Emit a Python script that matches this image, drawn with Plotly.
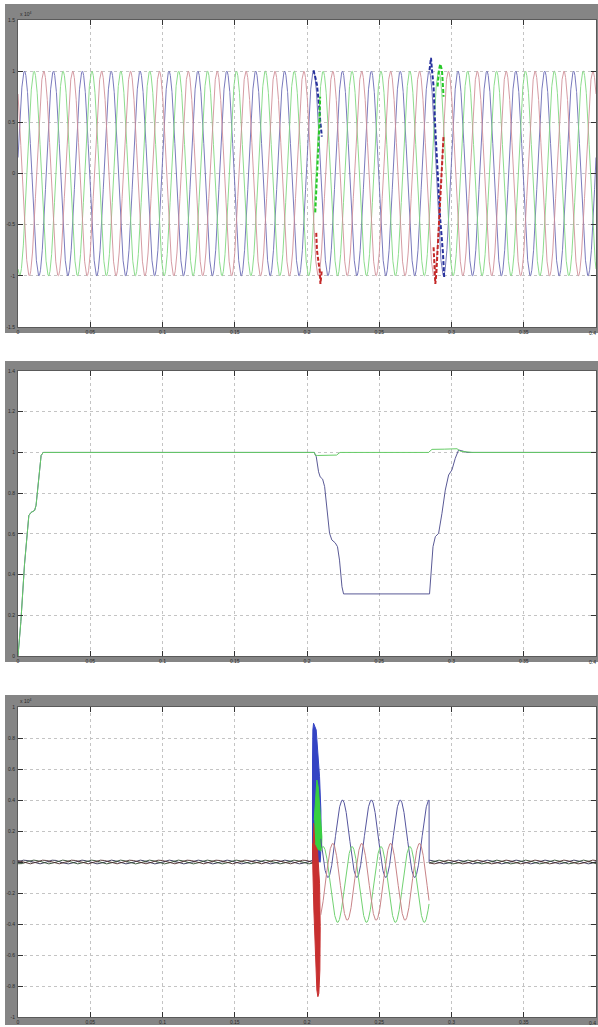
import numpy as np
import plotly.graph_objects as go

# ------------------------------------------------------------------ data
X_TICKS = [0, 0.05, 0.1, 0.15, 0.2, 0.25, 0.3, 0.35]
X_TICK_TEXT = ['0', '0.05', '0.1', '0.15', '0.2', '0.25', '0.3', '0.35']
X_END_LABEL = '0.4'
V_TICKS = [-1.5, -1, -0.5, 0, 0.5, 1, 1.5]
V_TICK_TEXT = ['-1.5', '-1', '-0.5', '0', '0.5', '1', '1.5']
RMS_TICKS = [0, 0.2, 0.4, 0.6, 0.8, 1.0, 1.2, 1.4]
RMS_TICK_TEXT = ['0', '0.2', '0.4', '0.6', '0.8', '1', '1.2', '1.4']
I_TICKS = [-1, -0.8, -0.6, -0.4, -0.2, 0, 0.2, 0.4, 0.6, 0.8, 1]
I_TICK_TEXT = ['-1', '-0.8', '-0.6', '-0.4', '-0.2', '0', '0.2', '0.4', '0.6', '0.8', '1']

# three-phase source parameters (blue, green, red)
FREQ_HZ = 50
BLUE_PEAK_T = 0.0045
PHASE_SHIFT_DEG = [0, -120, -240]
V_AMPL = [1.0, 1.0, 1.0]

# panel 1: disturbance segments (t, value x1e4)
GL1_BLUE_T = [0.2045, 0.2052, 0.2059, 0.2069, 0.2075, 0.2080, 0.2087, 0.2091, 0.2098, 0.2103]
GL1_BLUE_V = [1.01, 0.98, 0.93, 0.865, 0.80, 0.72, 0.62, 0.52, 0.425, 0.36]
GL1_GREEN_T = [0.2057, 0.2063, 0.2069, 0.2078, 0.2087, 0.2091]
GL1_GREEN_V = [-0.38, -0.22, -0.05, 0.30, 0.52, 0.75]
GL1_RED_T = [0.2064, 0.2069, 0.2080, 0.2088, 0.2093, 0.2098, 0.2102]
GL1_RED_V = [-0.58, -0.75, -0.87, -0.95, -1.08, -1.0, -0.95]
GL2_BLUE_T = [0.2848, 0.2858, 0.2865, 0.2876, 0.2888, 0.2905, 0.2922, 0.2941, 0.2945, 0.2950]
GL2_BLUE_V = [1.01, 1.13, 1.01, 0.85, 0.43, 0.0, -0.45, -0.78, -0.97, -1.03]
GL2_GREEN_T = [0.2904, 0.2913, 0.2922, 0.2934, 0.2941, 0.2945]
GL2_GREEN_V = [0.85, 1.01, 1.07, 1.01, 0.85, 0.75]
GL2_RED_T = [0.2876, 0.2883, 0.2888, 0.2895, 0.2904, 0.2922, 0.2934, 0.2945]
GL2_RED_V = [-0.72, -0.91, -1.08, -0.98, -0.75, -0.26, 0.03, 0.36]

# panel 2: RMS voltage (pu)
RMS_GREEN_T = [0, 0.002, 0.0045, 0.0065, 0.0075, 0.009, 0.0115, 0.0125, 0.0145, 0.016, 0.0175,
               0.2050, 0.2058, 0.2075, 0.2205, 0.2228, 0.2841, 0.2865, 0.2950, 0.3038,
               0.3061, 0.3100, 0.3143, 0.4]
RMS_GREEN_V = [0, 0.17, 0.45, 0.64, 0.69, 0.705, 0.715, 0.74, 0.90, 0.985, 1.0,
               1.0, 0.986, 0.985, 0.987, 1.0, 1.0, 1.015, 1.016, 1.018,
               1.006, 1.003, 1.0, 1.0]
RMS_BLUE_T = [0, 0.002, 0.0045, 0.0065, 0.0075, 0.009, 0.0115, 0.0125, 0.0145, 0.016, 0.0175,
              0.2050, 0.2064, 0.2080, 0.2091, 0.2108, 0.2122, 0.2138, 0.2156, 0.2172, 0.2195,
              0.2211, 0.2225, 0.2242, 0.2253, 0.2848, 0.2858, 0.2872, 0.2888, 0.2911, 0.2934,
              0.2957, 0.2980, 0.3003, 0.3026, 0.3049, 0.3072, 0.3107, 0.4]
RMS_BLUE_V = [0, 0.17, 0.45, 0.64, 0.69, 0.705, 0.715, 0.74, 0.90, 0.985, 1.0,
              1.0, 0.979, 0.905, 0.88, 0.869, 0.832, 0.733, 0.603, 0.57, 0.556,
              0.537, 0.471, 0.34, 0.305, 0.305, 0.406, 0.537, 0.586, 0.603, 0.701,
              0.815, 0.889, 0.914, 0.971, 1.012, 1.008, 1.0, 1.0]

# panel 3: currents (x1e4)
RIPPLE_AMPL = [0.012, 0.012, 0.012]
PRE_FAULT_END = 0.2045
POST_FAULT_START = 0.2845
STEADY_START = 0.2095
STEADY_END = 0.2845
I_STEADY_OFFSET = [0.15, -0.145, -0.128]
I_STEADY_AMPL = [0.25, 0.245, 0.248]
BLOB_BLUE_T = [0.20383, 0.2036, 0.20383, 0.20406, 0.20453, 0.20637, 0.20753, 0.20868, 0.2096, 0.20983, 0.20914]
BLOB_BLUE_V = [0.0, 0.335, 0.658, 0.852, 0.895, 0.852, 0.723, 0.55, 0.335, 0.12, 0.0]
BLOB_RED_T = [0.20453, 0.2059, 0.2073, 0.20868, 0.20914, 0.2089, 0.2082, 0.20753, 0.20683, 0.2059, 0.20476, 0.20406, 0.20383]
BLOB_RED_V = [0.25, 0.206, 0.077, -0.138, -0.417, -0.697, -0.847, -0.869, -0.826, -0.632, -0.31, -0.052, 0.12]
BLOB_GREEN_T = [0.20499, 0.2059, 0.20683, 0.20776, 0.20914, 0.2103, 0.21006, 0.20799, 0.20568]
BLOB_GREEN_V = [0.271, 0.443, 0.529, 0.486, 0.335, 0.163, 0.077, 0.077, 0.12]

# ------------------------------------------------------------------ styling
W, H = 598, 1027
FONT = 'Liberation Sans'
C_BASE = ['#6a6ab4', '#7fd87f', '#d09098']      # thin phase lines
C_STEADY = ['#56569e', '#72d272', '#c88488']
C_DARK = ['#26309c', '#28c828', '#c42828']      # disturbance overlays
C_BLOB = ['#3444c4', '#38d040', '#c83030']
C_RIPPLE = ['#303050', '#2f4a2f', '#4a2a2a']
TICK_FONT = dict(family=FONT, size=5, color='#2a2a2a')


def px_x(p):
    return p / W


def px_y(p):
    return 1 - p / H


PANELS = [  # plot area in pixels: left, right, top, bottom ; gray frame top, bottom
    dict(l=18, r=596, t=20, b=327, gt=4, gb=333),
    dict(l=18, r=596, t=371, b=656, gt=361, gb=662),
    dict(l=18, r=596, t=707, b=1017, gt=695, gb=1025),
]

t = np.linspace(0, 0.4, 8001)
omega = 2 * np.pi * FREQ_HZ


def phase_wave(tt, k, amp=1.0, off=0.0):
    return off + amp * np.cos(omega * (tt - BLUE_PEAK_T) + np.deg2rad(PHASE_SHIFT_DEG[k]))


fig = go.Figure()

# ---- panel 1
for k in range(3):
    fig.add_trace(go.Scatter(x=t, y=phase_wave(t, k, V_AMPL[k]), mode='lines',
                             line=dict(color=C_BASE[k], width=0.9), xaxis='x', yaxis='y',
                             hoverinfo='skip', showlegend=False))
for tt, vv, k in [(GL1_BLUE_T, GL1_BLUE_V, 0), (GL1_GREEN_T, GL1_GREEN_V, 1), (GL1_RED_T, GL1_RED_V, 2),
                  (GL2_BLUE_T, GL2_BLUE_V, 0), (GL2_GREEN_T, GL2_GREEN_V, 1), (GL2_RED_T, GL2_RED_V, 2)]:
    fig.add_trace(go.Scatter(x=tt, y=vv, mode='lines',
                             line=dict(color=C_DARK[k], width=2, dash='4px,2px'),
                             xaxis='x', yaxis='y', hoverinfo='skip', showlegend=False))

# ---- panel 2
fig.add_trace(go.Scatter(x=RMS_BLUE_T, y=RMS_BLUE_V, mode='lines', line=dict(color='#5a5a96', width=1),
                         xaxis='x2', yaxis='y2', hoverinfo='skip', showlegend=False))
fig.add_trace(go.Scatter(x=RMS_GREEN_T, y=RMS_GREEN_V, mode='lines', line=dict(color='#66cc66', width=1),
                         xaxis='x2', yaxis='y2', hoverinfo='skip', showlegend=False))

# ---- panel 3
pre = t <= PRE_FAULT_END
post = t >= POST_FAULT_START
for k in range(3):
    for mask in (pre, post):
        fig.add_trace(go.Scatter(x=t[mask], y=phase_wave(t[mask], k, RIPPLE_AMPL[k]), mode='lines',
                                 line=dict(color=C_RIPPLE[k], width=0.9), xaxis='x3', yaxis='y3',
                                 hoverinfo='skip', showlegend=False))
for tt, vv, k in [(BLOB_BLUE_T, BLOB_BLUE_V, 0), (BLOB_RED_T, BLOB_RED_V, 2), (BLOB_GREEN_T, BLOB_GREEN_V, 1)]:
    fig.add_trace(go.Scatter(x=tt, y=vv, mode='lines', fill='toself', fillcolor=C_BLOB[k],
                             line=dict(color=C_BLOB[k], width=1), xaxis='x3', yaxis='y3',
                             hoverinfo='skip', showlegend=False))
steady = (t >= STEADY_START) & (t <= STEADY_END)
for k in range(3):
    fig.add_trace(go.Scatter(x=t[steady], y=phase_wave(t[steady], k, I_STEADY_AMPL[k], I_STEADY_OFFSET[k]),
                             mode='lines', line=dict(color=C_STEADY[k], width=1), xaxis='x3', yaxis='y3',
                             hoverinfo='skip', showlegend=False))
# end of the blue steady oscillation drops straight back to the ripple level
fig.add_trace(go.Scatter(x=[STEADY_END, STEADY_END],
                         y=[float(phase_wave(np.array([STEADY_END]), 0, I_STEADY_AMPL[0], I_STEADY_OFFSET[0])[0]), 0],
                         mode='lines', line=dict(color=C_STEADY[0], width=1), xaxis='x3', yaxis='y3',
                         hoverinfo='skip', showlegend=False))

# ---- axes
shapes = []
annotations = []
ax_common = dict(showline=True, linecolor='#5a5a5a', linewidth=1, mirror='ticks', ticks='inside',
                 ticklen=5, tickcolor='#333333', tickwidth=1, showgrid=True, gridcolor='#c4c4c4',
                 griddash='dot', gridwidth=1, zeroline=False, automargin=False,
                 tickfont=TICK_FONT, fixedrange=True)
yspecs = [([-1.5, 1.5], V_TICKS, V_TICK_TEXT), ([0, 1.4], RMS_TICKS, RMS_TICK_TEXT),
          ([-1, 1], I_TICKS, I_TICK_TEXT)]
layout_axes = {}
for i, p in enumerate(PANELS):
    sfx = '' if i == 0 else str(i + 1)
    dom_x = [px_x(p['l']), px_x(p['r'])]
    dom_y = [px_y(p['b']), px_y(p['t'])]
    layout_axes['xaxis' + sfx] = dict(ax_common, domain=dom_x, range=[0, 0.4], tickvals=X_TICKS,
                                      ticktext=X_TICK_TEXT, anchor='y' + sfx, ticklabelstandoff=0)
    rng, tv, tt = yspecs[i]
    layout_axes['yaxis' + sfx] = dict(ax_common, domain=dom_y, range=rng, tickvals=tv, ticktext=tt,
                                      anchor='x' + sfx, ticklabelstandoff=1)
    shapes.append(dict(type='rect', xref='paper', yref='paper', x0=px_x(5), x1=1.0,
                       y0=px_y(p['gb']), y1=px_y(p['gt']), fillcolor='#858585', line=dict(width=0),
                       layer='below'))
    shapes.append(dict(type='rect', xref='paper', yref='paper', x0=dom_x[0], x1=dom_x[1],
                       y0=dom_y[0], y1=dom_y[1], fillcolor='#ffffff', line=dict(width=0),
                       layer='below'))
    # right-end tick label (0.4), drawn flush with the edge of the frame
    annotations.append(dict(text=X_END_LABEL, xref='paper', yref='paper', x=1.0, y=px_y(p['b'] + 1),
                            xanchor='right', yanchor='top', showarrow=False, font=TICK_FONT))

for p in (PANELS[0], PANELS[2]):
    annotations.append(dict(text='x 10<sup>4</sup>', xref='paper', yref='paper', x=px_x(18),
                            y=px_y(p['t'] - 6), xanchor='left', yanchor='middle', showarrow=False,
                            font=TICK_FONT))

fig.update_layout(width=W, height=H, margin=dict(l=0, r=0, t=0, b=0, autoexpand=False),
                  paper_bgcolor='#ffffff', plot_bgcolor='rgba(0,0,0,0)', shapes=shapes,
                  annotations=annotations, showlegend=False, **layout_axes)

fig.write_html('out.html', config={'displayModeBar': False},
               post_script="document.body.style.margin='0';document.body.style.overflow='hidden';")
